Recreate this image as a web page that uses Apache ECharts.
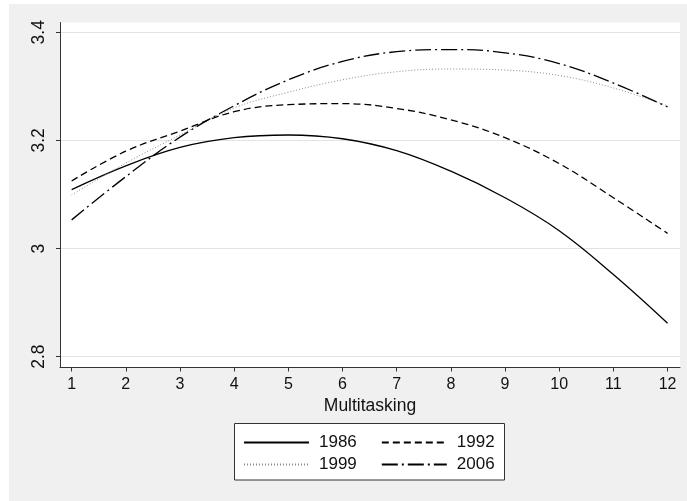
<!DOCTYPE html>
<html>
<head>
<meta charset="utf-8">
<script src="https://cdn.jsdelivr.net/npm/echarts@6/dist/echarts.min.js"></script>
<style>html,body{margin:0;padding:0;background:#fff;}#c{width:687px;height:501px;}</style>
</head>
<body>
<div id="c"></div>
<script>
var xValues = [1, 2, 3, 4, 5, 6, 7, 8, 9, 10, 11, 12];
var s1986 = [3.109, 3.153, 3.187, 3.205, 3.210, 3.203, 3.181, 3.143, 3.094, 3.033, 2.952, 2.862];
var s1992 = [3.125, 3.180, 3.217, 3.253, 3.266, 3.268, 3.259, 3.238, 3.205, 3.157, 3.094, 3.028];
var s1999 = [3.099, 3.158, 3.210, 3.260, 3.289, 3.312, 3.327, 3.332, 3.330, 3.320, 3.297, 3.264];
var s2006 = [3.053, 3.133, 3.206, 3.264, 3.312, 3.346, 3.364, 3.368, 3.362, 3.342, 3.306, 3.262];
var xTicks = [1, 2, 3, 4, 5, 6, 7, 8, 9, 10, 11, 12];
var yTicks = [2.8, 3, 3.2, 3.4];
var seriesNames = ['1986', '1992', '1999', '2006'];

function pairs(vals) { return xValues.map(function (x, i) { return [x, vals[i]]; }); }

var FONT = 'Liberation Sans, Arial, sans-serif';
var chart = echarts.init(document.getElementById('c'), null, { renderer: 'canvas' });
var lineBase = { type: 'line', symbol: 'none', smooth: 0.4, showSymbol: false };
function legendOf(names, top) {
  return { data: names, top: top, left: 243, itemWidth: 65, itemHeight: 14, itemGap: 24, z: 10, padding: 0,
    itemStyle: { opacity: 0 },
    textStyle: { fontFamily: FONT, fontSize: 17, color: '#111', padding: [0, 0, 0, 5] } };
}
chart.setOption({
  animation: false,
  backgroundColor: '#ffffff',
  graphic: [
    { type: 'rect', z: -10, shape: { x: 9, y: 4, width: 678, height: 497 }, style: { fill: '#f0f0f0' } },
    { type: 'rect', z: 5, shape: { x: 234.5, y: 423.5, width: 270, height: 56.5 }, style: { fill: '#ffffff', stroke: '#333333', lineWidth: 1 } }
  ],
  grid: { left: 60, right: 7, top: 22.5, bottom: 133.5, show: true, backgroundColor: '#ffffff', borderWidth: 0 },
  xAxis: {
    type: 'value', min: 0.785, max: 12.23,
    name: 'Multitasking', nameLocation: 'middle', nameGap: 27,
    nameTextStyle: { fontFamily: FONT, fontSize: 17.5, color: '#111' },
    axisLine: { show: true, lineStyle: { color: '#333', width: 1 } },
    axisTick: { show: true, length: 4, lineStyle: { color: '#333' }, customValues: xTicks },
    axisLabel: { fontFamily: FONT, fontSize: 16, color: '#111', margin: 9, customValues: xTicks },
    splitLine: { show: false }
  },
  yAxis: {
    type: 'value', min: 2.78, max: 3.418,
    axisLine: { show: true, lineStyle: { color: '#333', width: 1 } },
    axisTick: { show: true, length: 4, lineStyle: { color: '#333' }, customValues: yTicks },
    axisLabel: { fontFamily: FONT, fontSize: 17.5, color: '#111', margin: 12, rotate: 90, customValues: yTicks,
      formatter: function (v) { return String(Math.round(v * 10) / 10); } },
    splitLine: { show: true, lineStyle: { color: '#e3e3e3', width: 1.2 } }
  },
  legend: [legendOf(['1986', '1992'], 434), legendOf(['1999', '2006'], 456)],
  series: [
    Object.assign({}, lineBase, { name: seriesNames[0], data: pairs(s1986), lineStyle: { color: '#000', width: 1.3, type: 'solid' }, itemStyle: { color: '#000' } }),
    Object.assign({}, lineBase, { name: seriesNames[1], data: pairs(s1992), lineStyle: { color: '#000', width: 1.3, type: [7, 4] }, itemStyle: { color: '#000' } }),
    Object.assign({}, lineBase, { name: seriesNames[2], data: pairs(s1999), lineStyle: { color: '#8a8a8a', width: 1, type: [1, 2] }, itemStyle: { color: '#8a8a8a' } }),
    Object.assign({}, lineBase, { name: seriesNames[3], data: pairs(s2006), lineStyle: { color: '#000', width: 1.3, type: [16, 4, 2, 4] }, itemStyle: { color: '#000' } })
  ]
});
</script>
</body>
</html>
